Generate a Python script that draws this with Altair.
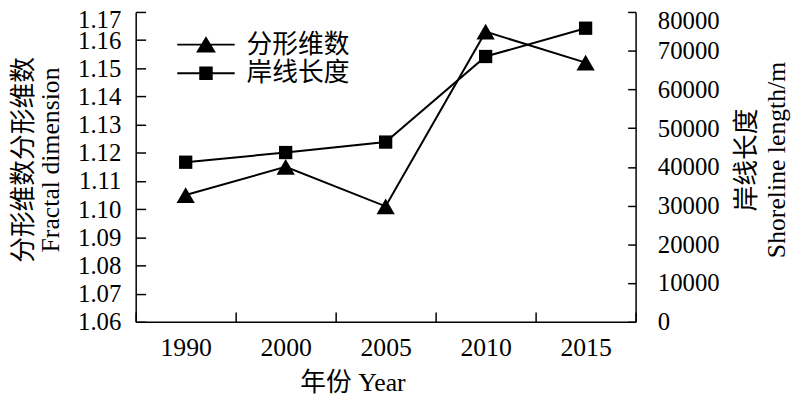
import altair as alt
import pandas as pd

# ---- data ----
years = ["1990", "2000", "2005", "2010", "2015"]
fractal = [1.105, 1.115, 1.101, 1.163, 1.152]
shoreline = [41200, 43700, 46400, 68500, 75800]
series_names = ["分形维数", "岸线长度"]
left_ticks = [1.06, 1.07, 1.08, 1.09, 1.10, 1.11, 1.12, 1.13, 1.14, 1.15, 1.16, 1.17]
right_ticks = [0, 10000, 20000, 30000, 40000, 50000, 60000, 70000, 80000]

FONT = "Liberation Serif, Times New Roman, Noto Sans CJK SC"
W, H = 505, 313

df = pd.DataFrame({"year": years, "fractal": fractal, "shoreline": shoreline})
legend_df = pd.DataFrame({"series": series_names})

# legend glyphs: a thin bar (the line) through the marker, all filled
tri_path = "M-2.9,-0.1H2.9V0.1H-2.9ZM0,-0.85L1,0.8L-1,0.8Z"
sq_path = "M-2.9,-0.1H2.9V0.1H-2.9ZM-0.68,-0.68H0.68V0.68H-0.68Z"

x_enc = alt.X(
    "year:O",
    sort=years,
    scale=alt.Scale(type="band", paddingInner=0, paddingOuter=0),
    axis=alt.Axis(
        title="年份 Year",
        labelAngle=0,
        tickBand="extent",
        ticks=False,
        tickSize=0,
        grid=True,
        gridDash=[10, H - 10],
        gridDashOffset=10,
        gridColor="black",
        gridWidth=1.5,
        gridOpacity=1,
        domainColor="black",
        domainWidth=1.5,
        labelPadding=13,
        labelFontSize=26,
        titleFontSize=26,
        titleX=219,
        titleY=48,
        titleAlign="center",
        titleBaseline="top",
    ),
)

y_left = alt.Y(
    "fractal:Q",
    scale=alt.Scale(domain=[1.06, 1.17], nice=False, zero=False),
    axis=alt.Axis(
        orient="left",
        values=left_ticks,
        format=".2f",
        ticks=False,
        tickSize=0,
        grid=True,
        gridDash=[10, 2000],
        gridColor="black",
        gridWidth=1.5,
        gridOpacity=1,
        domainColor="black",
        domainWidth=1.5,
        labelPadding=15,
        labelFontSize=25,
        labelOverlap=False,
        labelOffset={"condition": {"test": "datum.value > 1.165", "value": 8}, "value": 0},
        title=["分形维数分形维数", "Fractal dimension"],
        titleFontSize=26,
        titleAngle=270,
        titleAlign="center",
        titleBaseline="top",
        titleX=-126,
        titleY=149,
        titleLineHeight=27,
    ),
)

y_right = alt.Y(
    "shoreline:Q",
    scale=alt.Scale(domain=[0, 80000], nice=False),
    axis=alt.Axis(
        orient="right",
        values=right_ticks,
        format="d",
        ticks=False,
        tickSize=0,
        grid=True,
        gridDash=[8, 2000],
        gridColor="black",
        gridWidth=1.5,
        gridOpacity=1,
        domainColor="black",
        domainWidth=1.5,
        labelPadding=22,
        labelFontSize=25,
        labelOverlap=False,
        labelOffset={"condition": {"test": "datum.value > 75000", "value": 9}, "value": 0},
        title=["岸线长度", "Shoreline length/m"],
        titleFontSize=26,
        titleAngle=270,
        titleAlign="center",
        titleBaseline="top",
        titleX=99,
        titleY=149,
        titleLineHeight=30,
    ),
)

base = alt.Chart(df)

left = alt.layer(
    base.mark_line(color="black", strokeWidth=2).encode(x=x_enc, y=y_left),
    base.mark_point(shape="triangle-up", size=340, filled=True, color="black", opacity=1).encode(x=x_enc, y=y_left),
)
right = alt.layer(
    base.mark_line(color="black", strokeWidth=2).encode(x=x_enc, y=y_right),
    base.mark_point(shape="square", size=180, filled=True, color="black", opacity=1).encode(x=x_enc, y=y_right),
)

legend_layer = (
    alt.Chart(legend_df)
    .transform_filter("false")
    .mark_point(filled=True, color="black", opacity=1)
    .encode(
        shape=alt.Shape(
            "series:N",
            scale=alt.Scale(domain=series_names, range=[tri_path, sq_path]),
            legend=alt.Legend(
                title=None,
                orient="none",
                legendX=58,
                legendY=20,
                direction="vertical",
                symbolSize=400,
                symbolFillColor="black",
                symbolOpacity=1,
                labelFontSize=26,
                labelFont=FONT,
                labelColor="black",
                labelOffset=28,
                labelLimit=400,
                rowPadding=3,
                padding=0,
            ),
        )
    )
)

chart = (
    alt.layer(left, right, legend_layer)
    .resolve_scale(y="independent")
    .properties(
        width=W,
        height=H,
        autosize=alt.AutoSizeParams(type="none"),
        padding={"left": 129, "top": 2, "right": 158, "bottom": 75},
        background="white",
    )
    .configure_view(stroke=None)
    .configure_axis(
        labelFont=FONT,
        titleFont=FONT,
        labelColor="black",
        titleColor="black",
        titleFontWeight="normal",
    )
)

chart.save("out.html", embed_options={"renderer": "svg", "actions": False})
